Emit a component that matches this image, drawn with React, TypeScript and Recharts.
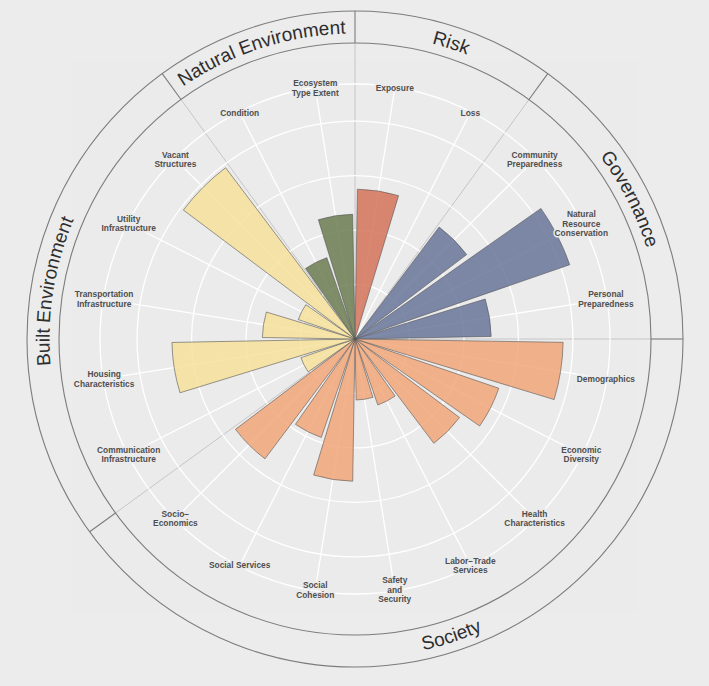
import React from 'react';
import { RadialBarChart, RadialBar, PolarGrid, PolarAngleAxis, PolarRadiusAxis, Cell } from 'recharts';

const categories = [
  'Exposure', 'Loss', 'Community Preparedness', 'Natural Resource Conservation', 'Personal Preparedness',
  'Demographics', 'Economic Diversity', 'Health Characteristics', 'Labor-Trade Services', 'Safety and Security',
  'Social Cohesion', 'Social Services', 'Socio-Economics', 'Communication Infrastructure', 'Housing Characteristics',
  'Transportation Infrastructure', 'Utility Infrastructure', 'Vacant Structures', 'Condition', 'Ecosystem Type Extent',
];

const tickLabels = [
  ['Exposure'], ['Loss'], ['Community', 'Preparedness'], ['Natural', 'Resource', 'Conservation'], ['Personal', 'Preparedness'],
  ['Demographics'], ['Economic', 'Diversity'], ['Health', 'Characteristics'], ['Labor\u2212Trade', 'Services'], ['Safety', 'and', 'Security'],
  ['Social', 'Cohesion'], ['Social Services'], ['Socio\u2212', 'Economics'], ['Communication', 'Infrastructure'], ['Housing', 'Characteristics'],
  ['Transportation', 'Infrastructure'], ['Utility', 'Infrastructure'], ['Vacant', 'Structures'], ['Condition'], ['Ecosystem', 'Type Extent'],
];

const scores = [
  2.75, 0, 2.57, 4.17, 2.5,
  3.82, 2.79, 2.4, 1.28, 1.12,
  2.61, 1.91, 2.75, 1.05, 3.36,
  1.7, 1.1, 3.94, 1.58, 2.29,
];

const domainOf = [
  'Risk', 'Risk', 'Governance', 'Governance', 'Governance',
  'Society', 'Society', 'Society', 'Society', 'Society',
  'Society', 'Society', 'Society', 'Built Environment', 'Built Environment',
  'Built Environment', 'Built Environment', 'Built Environment', 'Natural Environment', 'Natural Environment',
];

const domainNames = ['Risk', 'Governance', 'Society', 'Built Environment', 'Natural Environment'];

const radiusTicks = [1, 2, 3, 4, 4.68];
const RADIUS_MAX = 4.68;

const domainColors: Record<string, string> = {
  Risk: '#d5735b',
  Governance: '#68769a',
  Society: '#f1a679',
  'Built Environment': '#f7e19a',
  'Natural Environment': '#6b7b51',
};

const W = 709;
const H = 686;
const CX = 355;
const CY = 339;
const GRID_R = 255;
const LABEL_R = 254;
const RING_IN = 296;
const RING_OUT = 328;
const BG = '#ebebeb';
const FONT = "'Liberation Sans', Arial, sans-serif";

const step = 360 / categories.length;
// recharts bars run counter-clockwise from their tick, so start one step early
const START = 90 - step;
const END = START - 360;

const data = categories.map((name, i) => ({ name, value: scores[i], domain: domainOf[i] }));
const spokeAngles = categories.map((_, i) => START - i * step + step / 2);

// clockwise degrees from north
const pt = (a: number, r: number) => {
  const t = (a * Math.PI) / 180;
  return [CX + r * Math.sin(t), CY - r * Math.cos(t)];
};

const arcPath = (a1: number, a2: number, r: number) => {
  const [x1, y1] = pt(a1, r);
  const [x2, y2] = pt(a2, r);
  const large = Math.abs(a2 - a1) > 180 ? 1 : 0;
  const sweep = a2 > a1 ? 1 : 0;
  return `M${x1},${y1} A${r},${r} 0 ${large} ${sweep} ${x2},${y2}`;
};

const AngleTick = (props: any) => {
  const { payload } = props;
  const idx = categories.indexOf(payload.value);
  const lines = tickLabels[idx] ?? [String(payload.value)];
  const a = (-(payload.coordinate + step / 2) * Math.PI) / 180;
  const x = CX + LABEL_R * Math.cos(a);
  const y = CY + LABEL_R * Math.sin(a);
  const lh = 9.6;
  const y0 = y - ((lines.length - 1) * lh) / 2;
  return (
    <text
      textAnchor="middle"
      dominantBaseline="central"
      fontSize={8.4}
      fontWeight="bold"
      fontFamily={FONT}
      fill="#4f4f4f"
      stroke={BG}
      strokeWidth={3}
      paintOrder="stroke"
    >
      {lines.map((l, i) => (
        <tspan key={i} x={x} y={y0 + i * lh}>
          {l}
        </tspan>
      ))}
    </text>
  );
};

const groups = domainNames.map((name) => {
  const first = domainOf.indexOf(name);
  const last = domainOf.lastIndexOf(name);
  return { name, start: first * step, end: (last + 1) * step };
});

const Backdrop = () => (
  <svg width={W} height={H} style={{ position: 'absolute', left: 0, top: 0 }}>
    <rect x={0} y={0} width={W} height={H} fill="#ececec" />
    <rect x={73} y={61} width={565} height={551} fill={BG} />
    {groups.map((g) => {
      const [x1, y1] = pt(g.start, 0);
      const [x2, y2] = pt(g.start, RING_IN);
      const [x3, y3] = pt(g.start, RING_OUT);
      return (
        <g key={g.name}>
          <line x1={x1} y1={y1} x2={x2} y2={y2} stroke="#c2c2c2" strokeWidth={0.9} />
          <line x1={x2} y1={y2} x2={x3} y2={y3} stroke="#7c7c7c" strokeWidth={1.1} />
        </g>
      );
    })}
    <circle cx={CX} cy={CY} r={RING_IN} fill="none" stroke="#7c7c7c" strokeWidth={1.1} />
    <circle cx={CX} cy={CY} r={RING_OUT} fill="none" stroke="#7c7c7c" strokeWidth={1.1} />
    <defs>
      {groups.map((g, i) => {
        const mid = (g.start + g.end) / 2;
        const flip = mid > 100 && mid < 260;
        const d = flip ? arcPath(g.end, g.start, 318.5) : arcPath(g.start, g.end, 305.5);
        return <path key={g.name} id={`grp-${i}`} d={d} />;
      })}
    </defs>
    {groups.map((g, i) => (
      <text key={g.name} fontSize={19} fontFamily={FONT} fill="#2e2e2e" textAnchor="middle">
        <textPath href={`#grp-${i}`} startOffset="50%">
          {g.name}
        </textPath>
      </text>
    ))}
  </svg>
);

export default function App() {
  return (
    <div style={{ position: 'absolute', left: 0, top: 0, width: W, height: H, overflow: 'hidden' }}>
      <Backdrop />
      <div style={{ position: 'absolute', left: 0, top: 0 }}>
        <RadialBarChart
          width={W}
          height={H}
          cx={CX}
          cy={CY}
          innerRadius={0}
          outerRadius={GRID_R}
          startAngle={START}
          endAngle={END}
          layout="centric"
          data={data}
          barCategoryGap="6%"
          margin={{ top: 0, right: 0, bottom: 0, left: 0 }}
        >
          <PolarGrid gridType="circle" stroke="#ffffff" strokeWidth={1.3} polarAngles={spokeAngles} />
          <PolarAngleAxis
            dataKey="name"
            type="category"
            tick={<AngleTick />}
            tickLine={false}
            axisLine={false}
          />
          {/* tickCount 0 keeps recharts from rounding the domain up to 5 */}
          <PolarRadiusAxis
            type="number"
            domain={[0, RADIUS_MAX]}
            ticks={radiusTicks}
            tickCount={0}
            tick={false}
            axisLine={false}
          />
          <RadialBar dataKey="value" isAnimationActive={false} stroke="#555555" strokeWidth={0.6}>
            {data.map((d) => (
              <Cell key={d.name} fill={domainColors[d.domain]} fillOpacity={0.85} />
            ))}
          </RadialBar>
        </RadialBarChart>
      </div>
    </div>
  );
}
